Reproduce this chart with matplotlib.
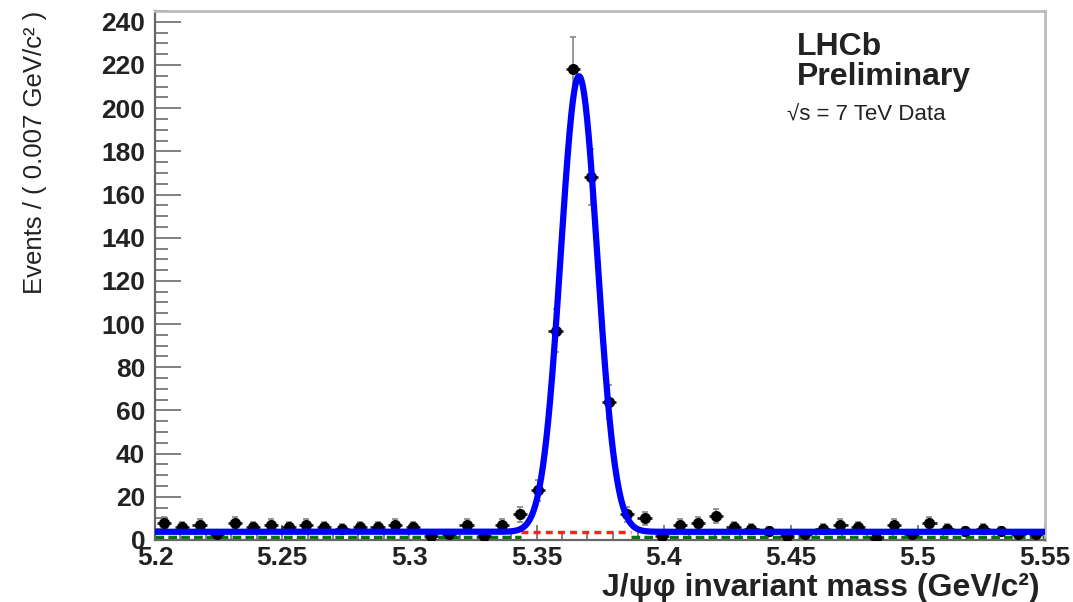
import numpy as np
import matplotlib
matplotlib.use("Agg")
import matplotlib.pyplot as plt
from matplotlib.ticker import MultipleLocator

plt.rcParams['font.family'] = ['Liberation Sans', 'DejaVu Sans']
plt.rcParams['mathtext.fontset'] = 'custom'
plt.rcParams['mathtext.rm'] = 'Liberation Sans'
plt.rcParams['mathtext.bf'] = 'Liberation Sans:bold'

# Binned J/psi phi mass spectrum, 50 bins of 0.007 GeV from 5.2 to 5.55
bin_width = 0.007
mass_lo, mass_hi = 5.2, 5.55
counts = [8, 6, 7, 3, 8, 6, 7, 6, 7, 6,
          5, 6, 6, 7, 6, 2, 3, 7, 2, 7,
          12, 23, 97, 218, 168, 64, 12, 10, 2, 7,
          8, 11, 6, 5, 4, 2, 3, 5, 7, 6,
          1, 7, 3, 8, 5, 4, 5, 4, 3, 3]

# Fit result: gaussian signal on flat background
sig_amp = 211.0
sig_mean = 5.3667
sig_width = 0.0072
bkg_level = 3.8
low_bkg_level = 1.4
win_lo, win_hi = 5.344, 5.387

centers = mass_lo + bin_width * (np.arange(len(counts)) + 0.5)
counts = np.array(counts, dtype=float)
errors = np.sqrt(counts)

m = np.linspace(mass_lo, mass_hi, 2000)
total = bkg_level + sig_amp * np.exp(-0.5 * ((m - sig_mean) / sig_width) ** 2)

fig = plt.figure(figsize=(10.73, 6.02), dpi=100)
ax = fig.add_axes([0.1445, 0.103, 0.8295, 0.8787])

# background components
green_ls = (0, (2.5, 1.2))
out_lo = m <= win_lo
out_hi = m >= win_hi
ax.plot(m[out_lo], np.full(out_lo.sum(), low_bkg_level), color='#007700', lw=2.5,
        ls=green_ls, zorder=2)
ax.plot(m[out_hi], np.full(out_hi.sum(), low_bkg_level), color='#007700', lw=2.5,
        ls=green_ls, zorder=2)
win = (m >= win_lo) & (m <= win_hi)
ax.plot(m[win], np.full(win.sum(), bkg_level), color='#ff2020', lw=2.5,
        ls=(0, (2, 1.5)), zorder=2)

# data points: grey poisson errors, short horizontal bars
ax.errorbar(centers, counts, yerr=errors, fmt='none', ecolor='#888888',
            elinewidth=1.2, capsize=2, capthick=1.2, zorder=3)
ax.errorbar(centers, counts, xerr=0.0028, fmt='o', color='black', ms=7,
            ecolor='#222222', elinewidth=2, capsize=0, zorder=3)
ax.plot(m, total, color='#0000ff', lw=4.5, zorder=4)

ax.set_xlim(mass_lo, mass_hi)
ax.set_ylim(0, 245)
ax.xaxis.set_major_locator(MultipleLocator(0.05))
ax.xaxis.set_minor_locator(MultipleLocator(0.01))
ax.yaxis.set_major_locator(MultipleLocator(20))
ax.yaxis.set_minor_locator(MultipleLocator(5))
ax.set_xticks([5.2, 5.25, 5.3, 5.35, 5.4, 5.45, 5.5, 5.55])
ax.set_xticklabels(['5.2', '5.25', '5.3', '5.35', '5.4', '5.45', '5.5', '5.55'])

ax.tick_params(axis='y', which='major', direction='in', length=19, width=1.3,
               color='#777777', labelsize=19, pad=7)
ax.tick_params(axis='y', which='minor', direction='in', length=9, width=1.3,
               color='#777777')
ax.tick_params(axis='x', which='major', direction='in', length=11, width=1.3,
               color='#777777', labelsize=19, pad=4)
ax.tick_params(axis='x', which='minor', direction='in', length=6, width=1.3,
               color='#777777')
for lab in ax.get_xticklabels() + ax.get_yticklabels():
    lab.set_fontweight('bold')
    lab.set_color('#222222')

ax.spines['left'].set_color('#666666')
ax.spines['left'].set_linewidth(1.6)
ax.spines['bottom'].set_color('#666666')
ax.spines['bottom'].set_linewidth(1.6)
for side in ('top', 'right'):
    ax.spines[side].set_color('#bbbbbb')
    ax.spines[side].set_linewidth(2)

ax.text(-0.135, 1.0, 'Events / ( 0.007 GeV/c\u00b2 )', transform=ax.transAxes,
        rotation=90, ha='center', va='top', fontsize=18.5, color='#222222')
ax.text(0.994, -0.090, 'J/ψφ invariant mass (GeV/c\u00b2)',
        transform=ax.transAxes, ha='right', va='center', fontsize=23,
        fontweight='bold', color='#222222')

ax.text(0.721, 0.932, 'LHCb', transform=ax.transAxes, ha='left', va='center',
        fontsize=23, fontweight='bold', color='#222222')
ax.text(0.721, 0.876, 'Preliminary', transform=ax.transAxes, ha='left',
        va='center', fontsize=23, fontweight='bold', color='#222222')
ax.text(0.710, 0.804, '\u221as = 7 TeV Data', transform=ax.transAxes, ha='left',
        va='center', fontsize=16, color='#222222')

fig.savefig('out.png', dpi=100)
